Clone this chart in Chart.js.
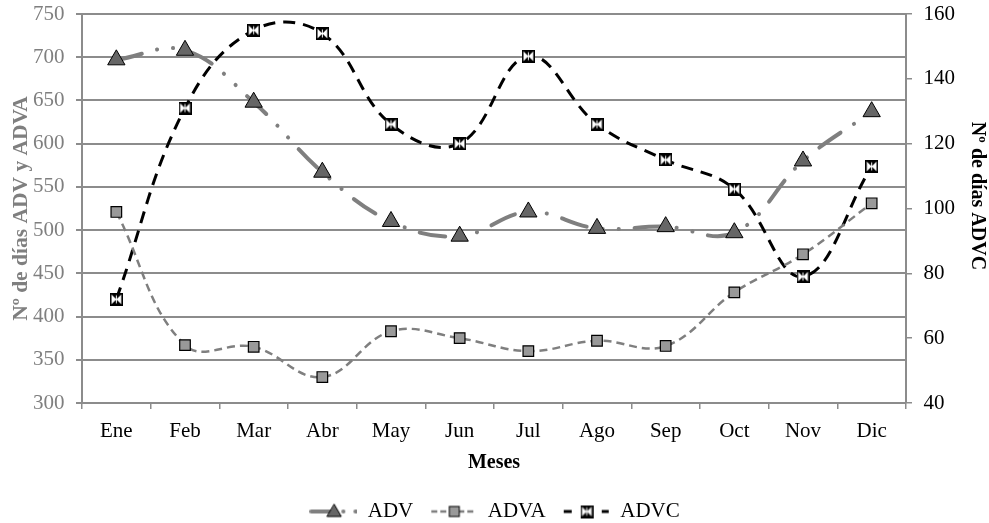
<!DOCTYPE html>
<html>
<head>
<meta charset="utf-8">
<script src="https://cdn.jsdelivr.net/npm/chart.js@4"></script>
<style>
  html, body { margin: 0; padding: 0; background: #fff; }
  #wrap { width: 989px; height: 523px; }
</style>
</head>
<body>
<div id="wrap"><canvas id="chart" width="989" height="523"></canvas></div>
<script>
// data
const meses = ["Ene", "Feb", "Mar", "Abr", "May", "Jun", "Jul", "Ago", "Sep", "Oct", "Nov", "Dic"];
const adv = [697, 708, 648, 567, 510, 493, 521, 502, 504, 497, 580, 637];
const adva = [521, 367, 365, 330, 383, 375, 360, 372, 366, 428, 472, 531];
const advc = [72, 131, 155, 154, 126, 120, 147, 126, 115, 106, 79, 113];

const FONT = "'Liberation Serif', 'Times New Roman', serif";
const GRID = "#8c8c8c";
const NBSP = "\u00a0";

// marker for ADVC: framed box with a black hourglass cross
function advcMarker() {
  const c = document.createElement("canvas");
  c.width = 13; c.height = 13;
  const g = c.getContext("2d");
  g.fillStyle = "#fff";
  g.fillRect(0, 0, 13, 13);
  g.fillStyle = "#000";
  g.beginPath();
  g.moveTo(1, 1); g.lineTo(12, 1); g.lineTo(6.5, 6.5); g.closePath();
  g.moveTo(1, 12); g.lineTo(12, 12); g.lineTo(6.5, 6.5); g.closePath();
  g.fill();
  g.strokeStyle = "#000";
  g.lineWidth = 1.6;
  g.strokeRect(0.8, 0.8, 11.4, 11.4);
  g.strokeStyle = "#fff";
  g.lineWidth = 1;
  g.beginPath();
  g.moveTo(6.5, 2.5); g.lineTo(6.5, 10.5);
  g.stroke();
  return c;
}
const advcPoint = advcMarker();

// legend samples: line + marker
function sample(dash, color, width, cap, drawMarker) {
  const c = document.createElement("canvas");
  c.width = 48; c.height = 20;
  const g = c.getContext("2d");
  g.strokeStyle = color;
  g.lineWidth = width;
  g.lineCap = cap;
  g.setLineDash(dash);
  g.beginPath();
  g.moveTo(2, 10); g.lineTo(47, 10);
  g.stroke();
  g.setLineDash([]);
  drawMarker(g, 25, 10);
  return c;
}
const legendADV = sample([20, 12, 0.1, 12], "#7f7f7f", 4, "round", function (g, x, y) {
  g.fillStyle = "#666";
  g.strokeStyle = "#000";
  g.lineWidth = 1;
  g.beginPath();
  g.moveTo(x, y - 7); g.lineTo(x + 7, y + 5); g.lineTo(x - 7, y + 5); g.closePath();
  g.fill(); g.stroke();
});
const legendADVA = sample([6, 3], "#7f7f7f", 2.5, "butt", function (g, x, y) {
  g.fillStyle = "#999";
  g.strokeStyle = "#000";
  g.lineWidth = 1;
  g.fillRect(x - 5, y - 5, 10, 10);
  g.strokeRect(x - 5, y - 5, 10, 10);
});
const legendADVC = sample([8, 11], "#000", 3, "butt", function (g, x, y) {
  g.drawImage(advcPoint, x - 6.5, y - 6.5);
});

new Chart(document.getElementById("chart"), {
  type: "line",
  data: {
    labels: meses,
    datasets: [
      {
        label: "ADV",
        data: adv,
        yAxisID: "y",
        borderColor: "#7f7f7f",
        borderWidth: 4,
        borderDash: [26, 16, 0.1, 16, 0.1, 16],
        borderCapStyle: "round",
        tension: 0.4,
        pointStyle: "triangle",
        pointRadius: 10,
        pointHoverRadius: 10,
        pointBackgroundColor: "#666",
        pointBorderColor: "#000",
        pointBorderWidth: 1,
        legendImg: legendADV,
      },
      {
        label: "ADVA",
        data: adva,
        yAxisID: "y",
        borderColor: "#7f7f7f",
        borderWidth: 2.5,
        borderDash: [8, 5],
        tension: 0.4,
        pointStyle: "rect",
        pointRadius: 7.5,
        pointHoverRadius: 7.5,
        pointBackgroundColor: "#999",
        pointBorderColor: "#000",
        pointBorderWidth: 1.2,
        legendImg: legendADVA,
      },
      {
        label: "ADVC",
        data: advc,
        yAxisID: "y1",
        borderColor: "#000",
        borderWidth: 3,
        borderDash: [12, 8],
        tension: 0.4,
        pointStyle: advcPoint,
        pointRadius: 7,
        legendImg: legendADVC,
      },
    ],
  },
  options: {
    responsive: false,
    animation: false,
    layout: { padding: { top: 14, left: 0, right: 0, bottom: -9 } },
    plugins: {
      tooltip: { enabled: false },
      legend: {
        position: "bottom",
        labels: {
          usePointStyle: true,
          pointStyleWidth: 48,
          padding: 16,
          color: "#000",
          font: { family: FONT, size: 21 },
          generateLabels: function (chart) {
            return chart.data.datasets.map(function (ds, i) {
              return {
                text: ds.label,
                pointStyle: ds.legendImg,
                datasetIndex: i,
                fontColor: "#000",
                lineWidth: 0,
                hidden: false,
              };
            });
          },
        },
      },
    },
    scales: {
      x: {
        offset: true,
        afterFit: function (s) { s.height = 82; },
        grid: { offset: true, drawOnChartArea: false, color: GRID, lineWidth: 1.5, tickLength: 6 },
        border: { color: GRID, width: 2 },
        ticks: { color: "#000", font: { family: FONT, size: 21 }, padding: 10 },
        title: {
          display: true,
          text: "Meses",
          color: "#000",
          font: { family: FONT, size: 20, weight: "bold" },
          padding: { top: 0, bottom: 10 },
        },
      },
      y: {
        position: "left",
        min: 300,
        max: 750,
        afterFit: function (s) { s.width = 82; },
        grid: { color: GRID, lineWidth: 2, tickLength: 6 },
        border: { color: GRID, width: 2 },
        ticks: {
          stepSize: 50,
          color: "#7f7f7f",
          font: { family: FONT, size: 21 },
          padding: 1,
          callback: function (v) { return v + NBSP + NBSP; },
        },
        title: {
          display: true,
          text: "Nº de días ADV y ADVA",
          color: "#7f7f7f",
          font: { family: FONT, size: 21.5, weight: "bold" },
          padding: { top: 9, bottom: 0 },
        },
      },
      y1: {
        position: "right",
        min: 40,
        max: 160,
        afterFit: function (s) { s.width = 83; },
        grid: { drawOnChartArea: false, color: GRID, lineWidth: 1.5, tickLength: 6 },
        border: { color: GRID, width: 2 },
        ticks: {
          stepSize: 20,
          color: "#000",
          font: { family: FONT, size: 21 },
          padding: 1,
          callback: function (v) { return NBSP + NBSP + v; },
        },
        title: {
          display: true,
          text: "Nº de días ADVC" + NBSP.repeat(5),
          color: "#000",
          font: { family: FONT, size: 20, weight: "bold" },
          padding: { top: 0, bottom: 4 },
        },
      },
    },
  },
});
</script>
</body>
</html>
